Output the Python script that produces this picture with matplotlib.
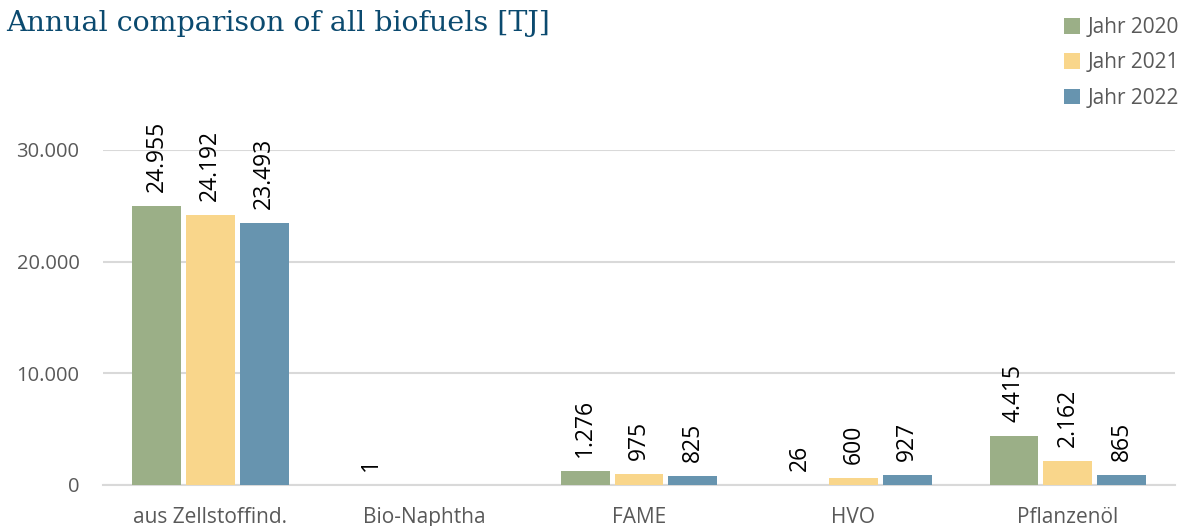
import numpy as np
import matplotlib.pyplot as plt

# Daten (TJ)
kategorien = ['aus Zellstoffind.', 'Bio-Naphtha', 'FAME', 'HVO', 'Pflanzenöl']
jahre = ['Jahr 2020', 'Jahr 2021', 'Jahr 2022']
werte_2020 = [24955, 1, 1276, 26, 4415]
werte_2021 = [24192, None, 975, 600, 2162]
werte_2022 = [23493, None, 825, 927, 865]

farben = ['#9BAF87', '#F9D68B', '#6794AF']
GRAU = '#595959'

plt.rcParams['font.family'] = ['Open Sans', 'DejaVu Sans']


def fmt(v):
    # deutsches Tausendertrennzeichen
    return f'{v:,.0f}'.replace(',', '.')


fig = plt.figure(figsize=(11.9, 5.26), dpi=100)
ax = fig.add_axes([0.0866, 0.078, 0.9008, 0.637])

x = np.arange(len(kategorien))
breite = 0.228
schritt = 0.251

for i, (serie, farbe, name) in enumerate(zip([werte_2020, werte_2021, werte_2022], farben, jahre)):
    pos = x + (i - 1) * schritt
    hoehen = [0 if v is None else v for v in serie]
    bars = ax.bar(pos, hoehen, breite, color=farbe, label=name, zorder=3)
    for b, v in zip(bars, serie):
        if v is None:
            continue
        ax.annotate(fmt(v), (b.get_x() + b.get_width() / 2, b.get_height()),
                    xytext=(0, 10), textcoords='offset points',
                    rotation=90, ha='center', va='bottom',
                    fontsize=16.5, color='black', annotation_clip=False)

ax.set_xlim(-0.5, len(kategorien) - 0.5)
ax.set_ylim(0, 30000)
ax.set_yticks([0, 10000, 20000, 30000])
ax.set_yticklabels([fmt(t) for t in [0, 10000, 20000, 30000]])
ax.set_xticks(x)
ax.set_xticklabels(kategorien)

ax.yaxis.grid(True, color='#D9D9D9', linewidth=1.5, zorder=0)
for s in ['top', 'right', 'left']:
    ax.spines[s].set_visible(False)
ax.spines['bottom'].set_color('#D9D9D9')
ax.spines['bottom'].set_linewidth(1.5)
ax.tick_params(axis='both', length=0, colors=GRAU, labelsize=15)
ax.tick_params(axis='y', labelsize=14.5, pad=17)
ax.tick_params(axis='x', pad=16)

fig.text(0.005, 0.955, 'Annual comparison of all biofuels [TJ]',
         family='DejaVu Serif', fontsize=20.5, color='#0B4A6F', va='center')

fig.legend(loc='upper right', bbox_to_anchor=(1.007, 1.003), frameon=False,
           fontsize=15, labelcolor=GRAU, handlelength=0.75, handleheight=0.75,
           handletextpad=0.4, labelspacing=0.68)

fig.savefig('out.png', dpi=100)
